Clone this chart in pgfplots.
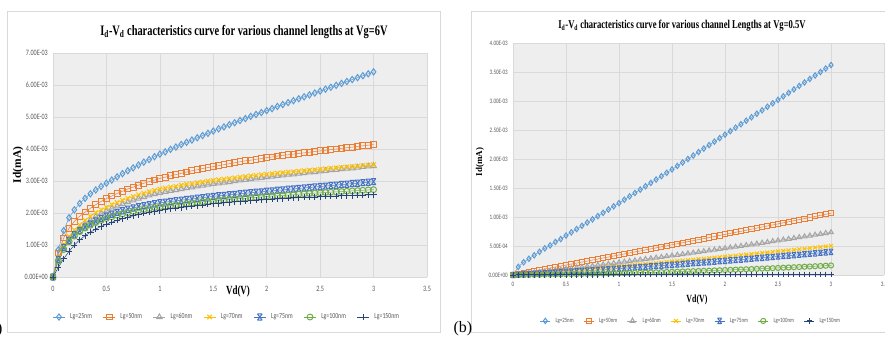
\documentclass[border=0pt]{standalone}
\usepackage{pgfplots}
\pgfplotsset{compat=1.18}
\usepackage{pgfplotstable}
\usepackage{fontspec}
\setmainfont{Liberation Serif}
\newfontfamily\tickfam{Carlito}[FakeStretch=0.75]
\newfontfamily\titlefam{Liberation Serif}[FakeStretch=0.72]
\definecolor{c1}{HTML}{5B9BD5}
\definecolor{c2}{HTML}{ED7D31}
\definecolor{c3}{HTML}{A5A5A5}
\definecolor{c4}{HTML}{FFC000}
\definecolor{c5}{HTML}{4472C4}
\definecolor{c6}{HTML}{70AD47}
\definecolor{c7}{HTML}{264478}
\definecolor{bgc}{HTML}{EEEEEE}
\definecolor{gridc}{HTML}{D9D9D9}
\definecolor{tickc}{HTML}{595959}
\definecolor{framec}{HTML}{D9D9D9}
\pgfdeclareplotmark{xbar}{%
  \pgfpathmoveto{\pgfqpoint{-0.75\pgfplotmarksize}{\pgfplotmarksize}}%
  \pgfpathlineto{\pgfqpoint{0.75\pgfplotmarksize}{-\pgfplotmarksize}}%
  \pgfpathmoveto{\pgfqpoint{-0.75\pgfplotmarksize}{-\pgfplotmarksize}}%
  \pgfpathlineto{\pgfqpoint{0.75\pgfplotmarksize}{\pgfplotmarksize}}%
  \pgfpathmoveto{\pgfqpoint{-0.75\pgfplotmarksize}{\pgfplotmarksize}}%
  \pgfpathlineto{\pgfqpoint{0.75\pgfplotmarksize}{\pgfplotmarksize}}%
  \pgfpathmoveto{\pgfqpoint{-0.75\pgfplotmarksize}{-\pgfplotmarksize}}%
  \pgfpathlineto{\pgfqpoint{0.75\pgfplotmarksize}{-\pgfplotmarksize}}%
  \pgfusepathqstroke}

% Vg = 6 V, Id in units of 1E-03
\pgfplotstableread{
V a b c d e f g
0 0 0 0 0 0 0 0
0.05 0.85 0.75 0.59 0.62 0.55 0.50 0.30
0.10 1.45 1.22 0.94 1.00 0.92 0.86 0.57
0.15 1.85 1.52 1.19 1.27 1.15 1.10 0.80
0.20 2.10 1.74 1.38 1.47 1.32 1.28 1.00
0.25 2.30 1.90 1.52 1.63 1.45 1.42 1.16
0.30 2.46 2.03 1.65 1.77 1.56 1.53 1.29
0.35 2.60 2.15 1.78 1.90 1.66 1.62 1.40
0.40 2.72 2.26 1.89 2.01 1.75 1.70 1.50
0.45 2.83 2.36 1.98 2.10 1.83 1.77 1.58
0.50 2.93 2.45 2.06 2.18 1.90 1.83 1.65
0.55 3.03 2.53 2.14 2.26 1.96 1.88 1.71
0.60 3.13 2.61 2.21 2.33 2.02 1.93 1.77
0.65 3.23 2.68 2.28 2.40 2.07 1.97 1.82
0.70 3.32 2.75 2.34 2.46 2.12 2.01 1.87
0.75 3.41 2.81 2.40 2.52 2.16 2.05 1.91
0.80 3.50 2.87 2.45 2.57 2.20 2.08 1.95
0.85 3.59 2.93 2.50 2.62 2.23 2.11 1.99
0.90 3.67 2.98 2.55 2.67 2.26 2.14 2.02
0.95 3.76 3.03 2.59 2.71 2.29 2.17 2.05
1.00 3.84 3.08 2.63 2.75 2.32 2.19 2.08
1.05 3.91 3.12 2.66 2.78 2.34 2.21 2.11
1.10 3.99 3.16 2.69 2.81 2.36 2.23 2.13
1.15 4.06 3.20 2.72 2.84 2.38 2.25 2.15
1.20 4.14 3.24 2.75 2.87 2.40 2.27 2.17
1.25 4.21 3.28 2.78 2.90 2.42 2.29 2.19
1.30 4.28 3.32 2.80 2.92 2.44 2.31 2.21
1.35 4.35 3.35 2.83 2.95 2.46 2.33 2.23
1.40 4.42 3.39 2.86 2.97 2.48 2.35 2.25
1.45 4.49 3.42 2.89 3.00 2.50 2.36 2.27
1.50 4.56 3.45 2.91 3.02 2.52 2.38 2.29
1.55 4.63 3.48 2.93 3.04 2.54 2.39 2.30
1.60 4.69 3.51 2.95 3.06 2.55 2.41 2.32
1.65 4.76 3.54 2.97 3.08 2.57 2.42 2.33
1.70 4.82 3.57 3.00 3.10 2.58 2.44 2.35
1.75 4.89 3.60 3.02 3.12 2.60 2.45 2.36
1.80 4.95 3.63 3.04 3.14 2.62 2.46 2.37
1.85 5.02 3.65 3.06 3.16 2.63 2.48 2.39
1.90 5.08 3.68 3.08 3.18 2.65 2.49 2.40
1.95 5.14 3.70 3.10 3.20 2.66 2.50 2.41
2.00 5.20 3.73 3.12 3.21 2.68 2.52 2.42
2.05 5.26 3.75 3.14 3.23 2.69 2.53 2.43
2.10 5.33 3.78 3.16 3.25 2.71 2.54 2.44
2.15 5.39 3.80 3.18 3.26 2.72 2.55 2.45
2.20 5.45 3.82 3.20 3.28 2.74 2.56 2.46
2.25 5.51 3.84 3.21 3.29 2.75 2.57 2.47
2.30 5.57 3.86 3.23 3.31 2.77 2.59 2.48
2.35 5.63 3.88 3.25 3.32 2.78 2.60 2.49
2.40 5.69 3.90 3.27 3.34 2.80 2.61 2.50
2.45 5.75 3.92 3.28 3.35 2.81 2.62 2.50
2.50 5.81 3.94 3.30 3.37 2.83 2.63 2.51
2.55 5.87 3.96 3.32 3.38 2.84 2.64 2.52
2.60 5.93 3.98 3.34 3.40 2.86 2.65 2.53
2.65 5.99 4.00 3.35 3.41 2.87 2.66 2.53
2.70 6.05 4.02 3.37 3.43 2.89 2.67 2.54
2.75 6.11 4.04 3.39 3.44 2.90 2.68 2.55
2.80 6.17 4.06 3.40 3.45 2.92 2.69 2.55
2.85 6.23 4.08 3.42 3.47 2.93 2.70 2.56
2.90 6.29 4.10 3.44 3.48 2.95 2.71 2.56
2.95 6.35 4.12 3.46 3.50 2.96 2.72 2.57
3.00 6.41 4.14 3.47 3.51 2.98 2.73 2.57
}\tableA

% Vg = 0.5 V, Id in units of 1E-03
\pgfplotstableread{
V a b c d e f g
0 0 0 0 0 0 0 0
0.05 0.14 0.017 0.010 0.007 0.005 0.001 0.0002
0.10 0.22 0.034 0.020 0.014 0.010 0.002 0.0004
0.15 0.28 0.051 0.030 0.021 0.015 0.003 0.0006
0.20 0.34 0.068 0.041 0.028 0.020 0.004 0.0008
0.25 0.40 0.085 0.051 0.036 0.026 0.005 0.001
0.30 0.46 0.103 0.061 0.043 0.031 0.0065 0.0012
0.35 0.51 0.120 0.072 0.050 0.036 0.0078 0.0014
0.40 0.57 0.137 0.082 0.057 0.042 0.0092 0.0016
0.45 0.62 0.154 0.093 0.065 0.047 0.0106 0.0018
0.50 0.68 0.171 0.104 0.072 0.053 0.0121 0.002
0.55 0.736 0.189 0.115 0.080 0.058 0.0136 0.0022
0.60 0.792 0.206 0.125 0.087 0.064 0.0152 0.0024
0.65 0.848 0.223 0.136 0.095 0.070 0.0169 0.0026
0.70 0.904 0.240 0.147 0.102 0.075 0.0186 0.0028
0.75 0.96 0.258 0.158 0.110 0.081 0.0204 0.003
0.80 1.016 0.275 0.170 0.118 0.087 0.0223 0.0032
0.85 1.072 0.293 0.181 0.126 0.093 0.0242 0.0034
0.90 1.128 0.310 0.192 0.133 0.099 0.0262 0.0036
0.95 1.184 0.328 0.204 0.141 0.105 0.0282 0.0038
1.00 1.24 0.345 0.215 0.149 0.111 0.0303 0.004
1.05 1.298 0.363 0.227 0.157 0.117 0.0325 0.0042
1.10 1.356 0.380 0.238 0.165 0.123 0.0347 0.0044
1.15 1.414 0.398 0.250 0.173 0.130 0.0370 0.0046
1.20 1.472 0.415 0.262 0.181 0.136 0.0393 0.0048
1.25 1.53 0.433 0.273 0.189 0.142 0.0417 0.005
1.30 1.588 0.450 0.285 0.197 0.149 0.0442 0.0052
1.35 1.646 0.468 0.297 0.205 0.155 0.0467 0.0054
1.40 1.704 0.486 0.309 0.214 0.162 0.0493 0.0056
1.45 1.762 0.504 0.322 0.222 0.168 0.0520 0.0058
1.50 1.82 0.521 0.334 0.230 0.175 0.0547 0.006
1.55 1.88 0.539 0.346 0.239 0.181 0.0575 0.0062
1.60 1.94 0.557 0.358 0.247 0.188 0.0603 0.0064
1.65 2.00 0.575 0.371 0.256 0.195 0.0632 0.0066
1.70 2.06 0.592 0.383 0.264 0.202 0.0661 0.0068
1.75 2.12 0.610 0.396 0.273 0.209 0.0692 0.007
1.80 2.18 0.628 0.409 0.281 0.216 0.0723 0.0072
1.85 2.24 0.646 0.421 0.290 0.223 0.0754 0.0074
1.90 2.30 0.664 0.434 0.299 0.230 0.0786 0.0076
1.95 2.36 0.682 0.447 0.307 0.237 0.0819 0.0078
2.00 2.42 0.700 0.460 0.316 0.244 0.0852 0.008
2.05 2.48 0.718 0.473 0.325 0.251 0.0886 0.0082
2.10 2.54 0.736 0.486 0.334 0.259 0.0920 0.0084
2.15 2.60 0.754 0.499 0.343 0.266 0.0956 0.0086
2.20 2.66 0.772 0.513 0.352 0.273 0.0991 0.0088
2.25 2.72 0.790 0.526 0.361 0.281 0.1028 0.009
2.30 2.78 0.809 0.539 0.370 0.288 0.1065 0.0092
2.35 2.84 0.827 0.553 0.379 0.296 0.1102 0.0094
2.40 2.90 0.845 0.566 0.388 0.303 0.1140 0.0096
2.45 2.96 0.863 0.580 0.397 0.311 0.1179 0.0098
2.50 3.02 0.881 0.594 0.406 0.319 0.1219 0.010
2.55 3.08 0.900 0.608 0.416 0.327 0.1259 0.0102
2.60 3.14 0.918 0.621 0.425 0.334 0.1299 0.0104
2.65 3.20 0.936 0.635 0.434 0.342 0.1341 0.0106
2.70 3.26 0.955 0.649 0.444 0.350 0.1383 0.0108
2.75 3.32 0.973 0.663 0.453 0.358 0.1425 0.011
2.80 3.38 0.991 0.678 0.463 0.366 0.1468 0.0112
2.85 3.44 1.010 0.692 0.472 0.374 0.1512 0.0114
2.90 3.50 1.028 0.706 0.482 0.383 0.1556 0.0116
2.95 3.56 1.047 0.721 0.491 0.391 0.1601 0.0118
3.00 3.62 1.065 0.735 0.501 0.399 0.1647 0.012
}\tableB

\pgfplotsset{
  excel/.style={
    scale only axis, anchor=south west, clip=false,
    xmin=0, xmax=3.5, xtick={0,0.5,...,3.5},
    xticklabels={0,0.5,1,1.5,2,2.5,3,3.5},
    axis background/.style={fill=bgc},
    grid=major, major grid style={draw=gridc, line width=0.7bp},
    axis line style={draw=none},
    major tick length=0pt,
    yticklabel style={anchor=east, inner sep=0pt, xshift=-5bp},
    tick label style={text=tickc},
    legend columns=7,
    legend cell align=left,
    legend style={draw=none, fill=none, text=tickc, inner sep=0pt},
  },
  s1/.style={color=c1, line width=0.5bp, mark=diamond, mark options={solid, fill=none, line width=1bp}},
  s2/.style={color=c2, line width=0.5bp, mark=square, mark options={solid, fill=none, line width=1bp, scale=0.95}},
  s3/.style={color=c3, line width=0.5bp, mark=triangle, mark options={solid, fill=none, line width=1bp}},
  s4/.style={color=c4, line width=0.5bp, mark=x, mark options={solid, line width=1bp}},
  s5/.style={color=c5, line width=0.5bp, mark=xbar, mark options={solid, line width=1bp}},
  s6/.style={color=c6, line width=0.5bp, mark=o, mark options={solid, fill=none, line width=1bp, scale=0.95}},
  s7/.style={color=c7, line width=0.5bp, mark=+, mark options={solid, line width=1bp}},
}

\begin{document}
\begin{tikzpicture}[x=1bp, y=1bp]
\clip (0,0) rectangle (885,337);
\fill[white] (0,0) rectangle (885,337);
\draw[framec, line width=0.8bp] (7,4.3) rectangle (440,326);
\draw[framec, line width=0.8bp] (471,4.3) rectangle (900,326);

% ---------- (a) Vg = 6 V ----------
\begin{axis}[excel,
  at={(53bp,60bp)}, width=374bp, height=224bp,
  ymin=0, ymax=7, ytick={0,1,...,7},
  yticklabels={0.00E+00,1.00E-03,2.00E-03,3.00E-03,4.00E-03,5.00E-03,6.00E-03,7.00E-03},
  tick label style={font=\tickfam\fontsize{8.2}{9}\selectfont},
  xticklabel style={anchor=base, inner sep=0pt, yshift=-14.5bp},
  mark size=3.1bp,
  legend style={at={(0.465,-0.1786)}, anchor=center, font=\tickfam\fontsize{7.8}{8}\selectfont,
    /tikz/every even column/.append style={column sep=9bp},
    /tikz/every odd column/.append style={column sep=3bp}},
  legend image code/.code={\draw[mark repeat=2,mark phase=2] plot coordinates {(0bp,0bp)(6bp,0bp)(12bp,0bp)};},
]
\addplot[s1] table[x=V,y=a]{\tableA};
\addplot[s2] table[x=V,y=b]{\tableA};
\addplot[s3] table[x=V,y=c]{\tableA};
\addplot[s4] table[x=V,y=d]{\tableA};
\addplot[s5] table[x=V,y=e]{\tableA};
\addplot[s6] table[x=V,y=f]{\tableA};
\addplot[s7] table[x=V,y=g]{\tableA};
\legend{Lg=25nm,Lg=50nm,Lg=60nm,Lg=70nm,Lg=75nm,Lg=100nm,Lg=150nm}
\end{axis}

% ---------- (b) Vg = 0.5 V ----------
\begin{axis}[excel,
  at={(513bp,62bp)}, width=371bp, height=232bp,
  ymin=0, ymax=4, ytick={0,0.5,...,4},
  yticklabels={0.00E+00,5.00E-04,1.00E-03,1.50E-03,2.00E-03,2.50E-03,3.00E-03,3.50E-03,4.00E-03},
  tick label style={font=\tickfam\fontsize{6.8}{8}\selectfont},
  xticklabel style={anchor=base, inner sep=0pt, yshift=-11.5bp},
  mark size=2.7bp,
  legend style={at={(0.48,-0.198)}, anchor=center, font=\tickfam\fontsize{6.5}{7}\selectfont,
    /tikz/every even column/.append style={column sep=8bp},
    /tikz/every odd column/.append style={column sep=3bp}},
  legend image code/.code={\draw[mark repeat=2,mark phase=2] plot coordinates {(0bp,0bp)(5bp,0bp)(10bp,0bp)};},
]
\addplot[s1] table[x=V,y=a]{\tableB};
\addplot[s2] table[x=V,y=b]{\tableB};
\addplot[s3] table[x=V,y=c]{\tableB};
\addplot[s4] table[x=V,y=d]{\tableB};
\addplot[s5] table[x=V,y=e]{\tableB};
\addplot[s6] table[x=V,y=f]{\tableB};
\addplot[s7] table[x=V,y=g]{\tableB};
\legend{Lg=25nm,Lg=50nm,Lg=60nm,Lg=70nm,Lg=75nm,Lg=100nm,Lg=150nm}
\end{axis}

% titles and labels
\node[font=\titlefam\bfseries\fontsize{14.5}{16}\selectfont] at (244,305)
  {I\textsubscript{d}-V\textsubscript{d} characteristics curve for various channel lengths at Vg=6V};
\node[font=\titlefam\bfseries\fontsize{12}{14}\selectfont] at (682,311)
  {I\textsubscript{d}-V\textsubscript{d} characteristics curve for various channel Lengths at Vg=0.5V};
\node[font=\titlefam\bfseries\fontsize{12.5}{14}\selectfont] at (238,45) {Vd(V)};
\node[font=\titlefam\bfseries\fontsize{11}{13}\selectfont] at (697,37) {Vd(V)};
\node[font=\bfseries\fontsize{11.5}{13}\selectfont, rotate=90] at (18,172) {Id(mA)};
\node[font=\bfseries\fontsize{9}{11}\selectfont, rotate=90] at (480,175) {Id(mA)};
\node[font=\fontsize{16}{18}\selectfont, anchor=base east] at (6,4) {(a)};
\node[font=\fontsize{16}{18}\selectfont, anchor=base west] at (450,5) {(b)};
\end{tikzpicture}
\end{document}
